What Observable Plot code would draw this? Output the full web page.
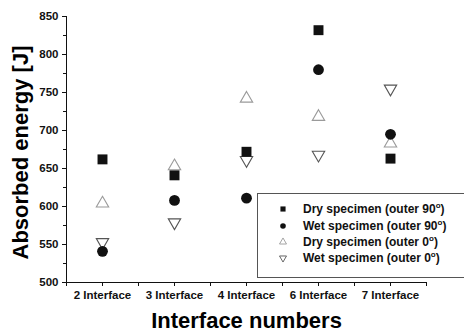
<!DOCTYPE html>
<html><head><meta charset="utf-8">
<script src="https://cdn.jsdelivr.net/npm/d3@7"></script>
<script src="https://cdn.jsdelivr.net/npm/@observablehq/plot@0.6"></script>
<style>
body{margin:0;background:#fff}
#wrap{position:relative;width:464px;height:336px;overflow:hidden;font-family:"Liberation Sans",Arial,sans-serif}
#legend{position:absolute;left:257px;top:193px;width:220px;height:85px;box-sizing:border-box;border:1px solid #555;background:#fff}
.row{position:absolute;left:0;height:16px;line-height:16px;font-weight:bold;font-size:12px;color:#111;white-space:nowrap}
.row svg{position:absolute;left:19px;top:2px}
.row span{position:absolute;left:45px;top:0}
.row sup{font-size:8px;line-height:0}
</style></head>
<body>
<div id="wrap"></div>
<script>
const categories = ["2 Interface", "3 Interface", "4 Interface", "6 Interface", "7 Interface"];
const dry90 = [662, 641, 672, 832, 663];
const wet90 = [541, 608, 611, 780, 695];
const dry0  = [604, 653, 742, 718, 683];
const wet0  = [553, 579, 661, 668, 755];
const yMajor = [500, 550, 600, 650, 700, 750, 800, 850];
const yMinor = [525, 575, 625, 675, 725, 775, 825];
const seriesNames = ["Dry specimen (outer 90", "Wet specimen (outer 90", "Dry specimen (outer 0", "Wet specimen (outer 0"];

const idx = categories.map((c, i) => i);
const rows = vals => vals.map((v, i) => ({i, v}));
const xMinor = [-0.5, 0.5, 1.5, 2.5, 3.5, 4.5];

const styles = [
  {symbol: "square", fill: "#111", stroke: "none", r: 5.6, rotate: 0, lr: 2.9},
  {symbol: "circle", fill: "#111", stroke: "none", r: 5.4, rotate: 0, lr: 2.8},
  {symbol: "triangle", fill: "none", stroke: "#9a9a9a", r: 4.6, rotate: 0, lr: 2.6},
  {symbol: "triangle", fill: "none", stroke: "#555", r: 4.6, rotate: 180, lr: 2.6}
];
const series = [dry90, wet90, dry0, wet0];
const order = [3, 2, 0, 1];

const chart = Plot.plot({
  width: 464, height: 336,
  marginLeft: 66, marginRight: 38, marginTop: 16, marginBottom: 54,
  x: {domain: [-0.5, 4.5], axis: null, label: null},
  y: {domain: [500, 850], axis: null, label: null},
  style: {fontFamily: '"Liberation Sans", Arial, sans-serif', background: "white", color: "#111"},
  marks: [
    Plot.ruleY([500], {stroke: "#111"}),
    Plot.ruleX([-0.5], {stroke: "#111"}),
    Plot.axisY(yMajor, {tickSize: 4, tickPadding: 4, fontSize: 11.5, fontWeight: "bold", label: null}),
    Plot.axisY(yMinor, {tickSize: 3, text: null, label: null}),
    Plot.axisX(idx, {tickSize: 4, tickPadding: 4, tickFormat: i => categories[i], fontSize: 11.5, fontWeight: "bold", label: null}),
    Plot.axisX(xMinor, {tickSize: 4, text: null, label: null}),
    ...order.map(k => Plot.dot(rows(series[k]), {
      x: "i", y: "v", symbol: styles[k].symbol, r: styles[k].r,
      fill: styles[k].fill, stroke: styles[k].stroke, strokeWidth: 1.1, rotate: styles[k].rotate
    })),
    Plot.text(["Interface numbers"], {frameAnchor: "bottom", dy: 38, fontSize: 22, fontWeight: "bold", fill: "#000", textAnchor: "middle", lineAnchor: "middle"}),
    Plot.text(["Absorbed energy [J]"], {frameAnchor: "left", dx: -46, dy: 3, rotate: -90, fontSize: 22, fontWeight: "bold", fill: "#000", textAnchor: "middle", lineAnchor: "middle"})
  ]
});
const wrap = document.getElementById("wrap");
wrap.appendChild(chart);

const legend = document.createElement("div");
legend.id = "legend";
const centers = [16, 32.5, 49, 65];
seriesNames.forEach((name, k) => {
  const row = document.createElement("div");
  row.className = "row";
  row.style.top = (centers[k] - 8 - 1) + "px";
  const s = styles[k];
  const path = d3.symbol(s.symbol === "square" ? d3.symbolSquare : s.symbol === "circle" ? d3.symbolCircle : d3.symbolTriangle, Math.PI * s.lr * s.lr)();
  row.innerHTML = `<svg width="12" height="12" viewBox="-6 -6 12 12"><path d="${path}" fill="${s.fill}" stroke="${s.stroke}" stroke-width="0.9" transform="rotate(${s.rotate})"/></svg><span>${name}<sup>o</sup>)</span>`;
  legend.appendChild(row);
});
wrap.appendChild(legend);
</script>
</body></html>
